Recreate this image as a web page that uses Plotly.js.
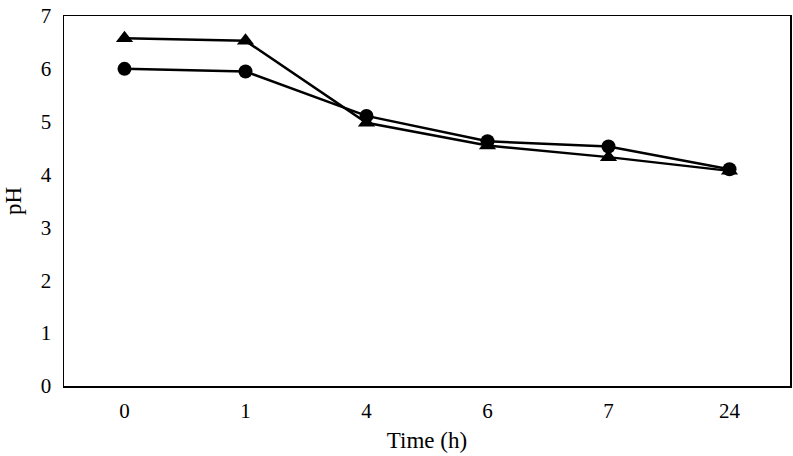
<!DOCTYPE html>
<html>
<head>
<meta charset="utf-8">
<script src="https://cdn.plot.ly/plotly-3.0.1.min.js"></script>
<style>html,body{margin:0;padding:0;background:#fff;}#chart{width:793px;height:456px;}</style>
</head>
<body>
<div id="chart"></div>
<script>
const timeLabels = ["0", "1", "4", "6", "7", "24"];
const phCircle = [6.00, 5.95, 5.11, 4.63, 4.53, 4.10];
const phTriangle = [6.58, 6.53, 4.98, 4.55, 4.33, 4.07];
const yTicks = [0, 1, 2, 3, 4, 5, 6, 7];

const traces = [
  {
    x: timeLabels, y: phTriangle, type: "scatter", mode: "lines+markers",
    line: {color: "#000", width: 2.5},
    marker: {symbol: "triangle-up", size: 15, color: "#000"},
    showlegend: false
  },
  {
    x: timeLabels, y: phCircle, type: "scatter", mode: "lines+markers",
    line: {color: "#000", width: 2.5},
    marker: {symbol: "circle", size: 14, color: "#000"},
    showlegend: false
  }
];

const layout = {
  width: 793, height: 456,
  margin: {l: 64, r: 3, t: 16, b: 70},
  paper_bgcolor: "#fff", plot_bgcolor: "#fff",
  font: {family: "Liberation Serif, Times New Roman, serif", color: "#000", size: 21},
  xaxis: {
    type: "category", range: [-0.5, 5.5],
    showgrid: false, zeroline: false,
    showline: true, linecolor: "#000", linewidth: 1.5, mirror: true,
    ticks: "", ticklabelstandoff: 5,
    tickfont: {size: 21},
    title: {text: "Time (h)", font: {size: 23}, standoff: 10}
  },
  yaxis: {
    range: [0, 7], tickvals: yTicks,
    showgrid: false, zeroline: false,
    showline: true, linecolor: "#000", linewidth: 1.5, mirror: true,
    ticks: "", ticklabelstandoff: 7,
    tickfont: {size: 21},
    title: {text: "pH", font: {size: 23}, standoff: 12}
  }
};

Plotly.newPlot("chart", traces, layout, {displayModeBar: false, staticPlot: true});
</script>
</body>
</html>
